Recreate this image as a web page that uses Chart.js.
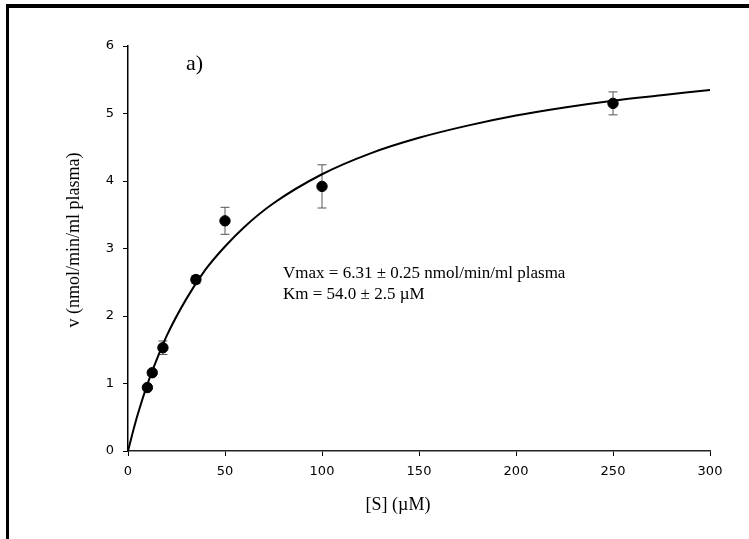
<!DOCTYPE html>
<html>
<head>
<meta charset="utf-8">
<script src="https://cdn.jsdelivr.net/npm/chart.js@4.4.0/dist/chart.umd.min.js"></script>
<style>
html,body{margin:0;padding:0;background:#fff;}
#wrap{width:749px;height:539px;position:relative;}
</style>
</head>
<body>
<div id="wrap"><canvas id="c" width="749" height="539"></canvas></div>
<script>
// Substrate concentrations [S] (µM) and measured velocities
const sConc = [10, 12.5, 18, 35, 50, 100, 250];
const velocity = [0.94, 1.16, 1.53, 2.54, 3.41, 3.92, 5.15];
const velocityErr = [0.02, 0.04, 0.10, 0.06, 0.20, 0.32, 0.17];

// Fitted curve
const fitX = [0, 2.5, 5, 10, 15, 20, 30, 40, 50, 60, 75, 100, 125, 150, 175, 200, 225, 250, 275, 300];
const fitY = [0, 0.28, 0.54, 0.99, 1.37, 1.71, 2.25, 2.69, 3.03, 3.32, 3.67, 4.10, 4.41, 4.64, 4.82, 4.97, 5.09, 5.19, 5.27, 5.35];

const xTicks = [0, 50, 100, 150, 200, 250, 300];
const yTicks = [0, 1, 2, 3, 4, 5, 6];

const panelLabel = 'a)';
const xTitle = '[S] (\u00B5M)';
const yTitle = 'v (nmol/min/ml plasma)';
const annotLines = ['Vmax = 6.31 \u00B1 0.25 nmol/min/ml plasma', 'Km = 54.0 \u00B1 2.5 \u00B5M'];

const serif = '"Liberation Serif", "Times New Roman", serif';
const sans = '"DejaVu Sans", Arial, sans-serif';

const framePlugin = {
  id: 'frame',
  beforeDraw(chart) {
    const ctx = chart.ctx;
    ctx.save();
    ctx.fillStyle = '#fff';
    ctx.fillRect(0, 0, chart.width, chart.height);
    ctx.fillStyle = '#000';
    ctx.fillRect(6, 4, chart.width - 6, 4);
    ctx.fillRect(6, 4, 3, chart.height - 4);
    ctx.restore();
  }
};

const errorBarPlugin = {
  id: 'errbars',
  beforeDatasetsDraw(chart) {
    const ctx = chart.ctx;
    const xs = chart.scales.x, ys = chart.scales.y;
    ctx.save();
    ctx.strokeStyle = '#555';
    ctx.lineWidth = 1;
    for (let i = 0; i < sConc.length; i++) {
      const px = xs.getPixelForValue(sConc[i]);
      const top = ys.getPixelForValue(velocity[i] + velocityErr[i]);
      const bot = ys.getPixelForValue(velocity[i] - velocityErr[i]);
      ctx.beginPath();
      ctx.moveTo(px, top); ctx.lineTo(px, bot);
      ctx.moveTo(px - 4.5, top); ctx.lineTo(px + 4.5, top);
      ctx.moveTo(px - 4.5, bot); ctx.lineTo(px + 4.5, bot);
      ctx.stroke();
    }
    ctx.restore();
  }
};

const textPlugin = {
  id: 'texts',
  afterDraw(chart) {
    const ctx = chart.ctx;
    ctx.save();
    ctx.fillStyle = '#000';
    // panel label
    ctx.font = '22px ' + serif;
    ctx.textAlign = 'left';
    ctx.textBaseline = 'alphabetic';
    ctx.fillText(panelLabel, 186, 70);
    // annotation
    ctx.font = '17px ' + serif;
    ctx.fillText(annotLines[0], 283, 278);
    ctx.fillText(annotLines[1], 283, 299);
    // x title
    ctx.font = '18px ' + serif;
    ctx.textAlign = 'center';
    ctx.fillText(xTitle, 398, 510);
    // y title
    ctx.translate(79, 240);
    ctx.rotate(-Math.PI / 2);
    ctx.fillText(yTitle, 0, 0);
    ctx.restore();
  }
};

new Chart(document.getElementById('c'), {
  type: 'scatter',
  data: {
    datasets: [
      {
        label: 'fit',
        data: fitX.map((x, i) => ({x: x, y: fitY[i]})),
        showLine: true,
        borderColor: '#000',
        borderWidth: 2,
        pointRadius: 0,
        cubicInterpolationMode: 'monotone',
        order: 2
      },
      {
        label: 'data',
        data: sConc.map((x, i) => ({x: x, y: velocity[i]})),
        backgroundColor: '#000',
        borderColor: '#000',
        pointRadius: 5.2,
        pointHoverRadius: 5.2,
        order: 1
      }
    ]
  },
  options: {
    responsive: false,
    animation: false,
    events: [],
    layout: { padding: { left: 0, right: 39, top: 46, bottom: 0 } },
    plugins: { legend: { display: false }, tooltip: { enabled: false }, title: { display: false } },
    scales: {
      x: {
        type: 'linear',
        min: 0, max: 300,
        afterFit(s) { s.height = 88; },
        afterBuildTicks(s) { s.ticks = xTicks.map(v => ({value: v})); },
        grid: { drawOnChartArea: false, drawTicks: true, tickLength: 5, color: '#000', lineWidth: 1 },
        border: { display: true, color: '#222', width: 1.5 },
        ticks: { color: '#000', font: { family: sans, size: 13 }, padding: 8, maxRotation: 0 }
      },
      y: {
        type: 'linear',
        min: 0, max: 6,
        afterFit(s) { s.width = 128; },
        afterBuildTicks(s) { s.ticks = yTicks.map(v => ({value: v})); },
        grid: { drawOnChartArea: false, drawTicks: true, tickLength: 5, color: '#000', lineWidth: 1 },
        border: { display: true, color: '#000', width: 1.5 },
        ticks: { color: '#000', font: { family: sans, size: 13 }, padding: 9 }
      }
    }
  },
  plugins: [framePlugin, errorBarPlugin, textPlugin]
});
</script>
</body>
</html>
